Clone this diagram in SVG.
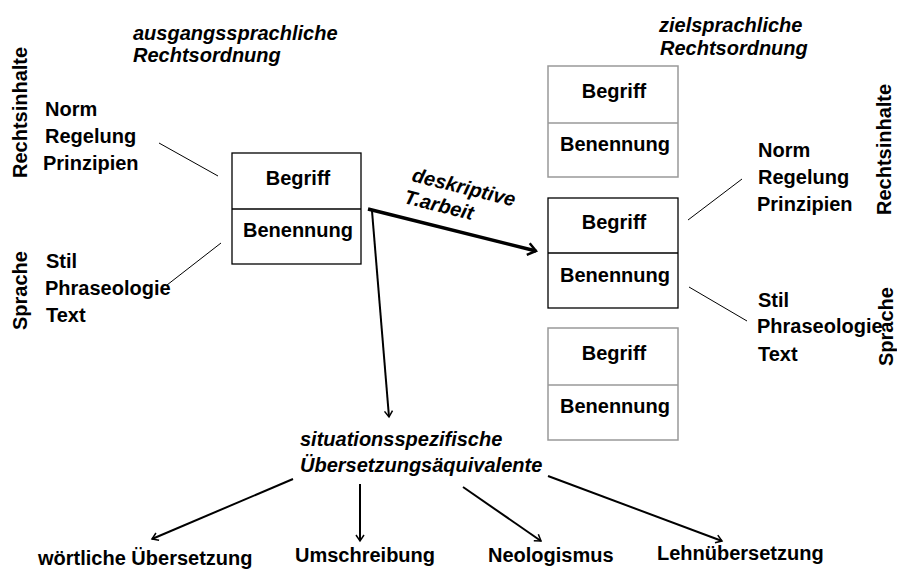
<svg xmlns="http://www.w3.org/2000/svg" width="897" height="570" viewBox="0 0 897 570">
<defs>
<style>
text{font-family:"Liberation Sans",Arial,sans-serif;font-weight:bold;font-size:20px;fill:#000}
.it{font-style:italic}
.box{fill:#fff;stroke:#000;stroke-width:1.3}
.gbox{fill:#fff;stroke:#999;stroke-width:1.5}
.ln{stroke:#000;stroke-width:1;fill:none}
.ar{stroke:#000;stroke-width:2;fill:none}
</style>
<marker id="ah" markerWidth="10" markerHeight="10" refX="8" refY="5" orient="auto" markerUnits="userSpaceOnUse">
<path d="M2,1 L8,5 L2,9" fill="none" stroke="#000" stroke-width="1.5"/>
</marker>
<marker id="ahb" markerWidth="16" markerHeight="16" refX="12" refY="8" orient="auto" markerUnits="userSpaceOnUse">
<path d="M4,2 L12,8 L4,14" fill="none" stroke="#000" stroke-width="2.5"/>
</marker>
</defs>

<g id="left-title">
<text class="it" x="133" y="40">ausgangssprachliche</text>
<text class="it" x="133" y="62">Rechtsordnung</text>
</g>
<g id="right-title">
<text class="it" x="659" y="32">zielsprachliche</text>
<text class="it" x="660" y="55">Rechtsordnung</text>
</g>

<g id="left-labels">
<text transform="translate(27,178) rotate(-90)">Rechtsinhalte</text>
<text x="45" y="116">Norm</text>
<text x="45" y="143">Regelung</text>
<text x="43" y="170">Prinzipien</text>
<text transform="translate(27,330) rotate(-90)">Sprache</text>
<text x="46" y="268">Stil</text>
<text x="45" y="295">Phraseologie</text>
<text x="46" y="322">Text</text>
</g>

<g id="right-labels">
<text transform="translate(891,215) rotate(-90)">Rechtsinhalte</text>
<text x="758" y="157">Norm</text>
<text x="758" y="184">Regelung</text>
<text x="757" y="211">Prinzipien</text>
<text transform="translate(893,366) rotate(-90)">Sprache</text>
<text x="758" y="307">Stil</text>
<text x="757" y="333">Phraseologie</text>
<text x="758" y="361">Text</text>
</g>

<g id="box-source">
<rect class="box" x="232" y="153" width="129" height="111"/>
<line class="box" x1="232" y1="209" x2="361" y2="209"/>
<text x="298" y="185" text-anchor="middle">Begriff</text>
<text x="298" y="237" text-anchor="middle">Benennung</text>
</g>

<g id="box-target-1">
<rect class="gbox" x="548" y="66" width="130" height="111"/>
<line class="gbox" x1="548" y1="123" x2="678" y2="123"/>
<text x="614" y="98" text-anchor="middle">Begriff</text>
<text x="615" y="151" text-anchor="middle">Benennung</text>
</g>
<g id="box-target-2">
<rect class="box" x="548" y="198" width="130" height="110"/>
<line class="box" x1="548" y1="253" x2="678" y2="253"/>
<text x="614" y="229" text-anchor="middle">Begriff</text>
<text x="615" y="282" text-anchor="middle">Benennung</text>
</g>
<g id="box-target-3">
<rect class="gbox" x="548" y="328" width="130" height="112"/>
<line class="gbox" x1="548" y1="385" x2="678" y2="385"/>
<text x="614" y="360" text-anchor="middle">Begriff</text>
<text x="615" y="413" text-anchor="middle">Benennung</text>
</g>

<g id="equiv">
<text class="it" x="300" y="446">situationsspezifische</text>
<text class="it" x="300" y="472">Übersetzungsäquivalente</text>
</g>

<g id="bottom-labels">
<text x="38" y="565">wörtliche Übersetzung</text>
<text x="295" y="562">Umschreibung</text>
<text x="488" y="562">Neologismus</text>
<text x="657" y="560">Lehnübersetzung</text>
</g>

<g id="arrow-label">
<text class="it" transform="translate(411,181) rotate(14)">deskriptive</text>
<text class="it" transform="translate(403,203) rotate(14)">T.arbeit</text>
</g>

<g id="connectors">
<line class="ln" x1="159" y1="143" x2="218" y2="176"/>
<line class="ln" x1="221" y1="243" x2="167" y2="285"/>
<line class="ln" x1="688" y1="220" x2="742" y2="179"/>
<line class="ln" x1="689" y1="287" x2="747" y2="321"/>
<line stroke="#000" stroke-width="3.5" x1="368" y1="209" x2="536" y2="251" marker-end="url(#ahb)"/>
<line class="ar" x1="372" y1="211" x2="389" y2="417" marker-end="url(#ah)"/>
<line class="ar" x1="293" y1="479" x2="152" y2="539" marker-end="url(#ah)"/>
<line class="ar" x1="360" y1="484" x2="360" y2="541" marker-end="url(#ah)"/>
<line class="ar" x1="463" y1="487" x2="541" y2="541" marker-end="url(#ah)"/>
<line class="ar" x1="548" y1="476" x2="722" y2="541" marker-end="url(#ah)"/>
</g>
</svg>
